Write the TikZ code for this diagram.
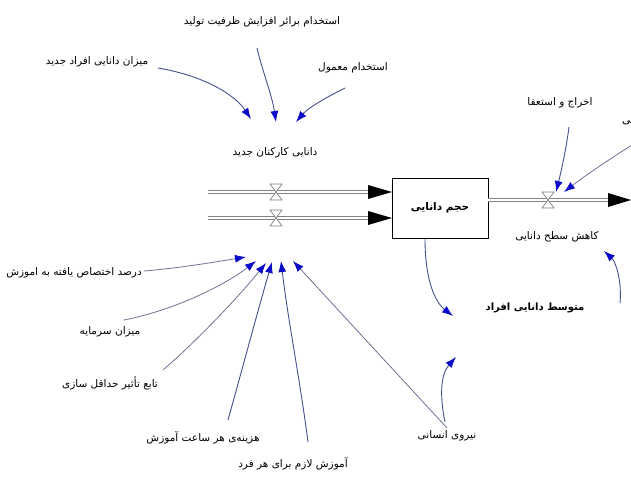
\documentclass[tikz,border=0pt]{standalone}
\usepackage{fontspec}
\newfontfamily\fa[Script=Arabic]{DejaVu Sans}
\TeXXeTstate=1
\usetikzlibrary{arrows.meta}
\definecolor{linkc}{RGB}{70,80,140}
\definecolor{linkg}{RGB}{110,115,150}
\definecolor{headc}{RGB}{10,10,200}
\definecolor{pipec}{RGB}{130,130,130}
\newcommand{\fatext}[1]{\beginR #1\endR}
\begin{document}
\begin{tikzpicture}[x=1pt,y=-1pt,
  lbl/.style={font=\fa\fontsize{10.5}{12}\selectfont, inner sep=1pt},
  blbl/.style={font=\fa\bfseries\fontsize{10}{12}\selectfont, inner sep=1pt},
  link/.style={draw=linkc, line width=0.9pt, -{Latex[length=11pt,width=8pt,color=headc]}},
  linkgray/.style={draw=linkg, line width=0.8pt, -{Latex[length=11pt,width=8pt,color=headc]}},
  pipe/.style={draw=pipec, double=white, double distance=2.4pt, line width=0.8pt},
  valvesym/.pic={\draw[pipec, fill=white, line width=0.7pt] (-6,-8)--(6,-8)--(-6,8)--(6,8)--cycle;},
]
\useasboundingbox[fill=white] (0,0) rectangle (631,492);

% labels
\node[lbl] (ebar) at (262,22) {\fatext{استخدام برائر افزایش ظرفیت تولید}};
\node[lbl] (mdaj) at (97,62) {\fatext{میزان دانایی افراد جدید}};
\node[lbl] (emam) at (353,68) {\fatext{استخدام معمول}};
\node[lbl] (dkj) at (275,153) {\fatext{دانایی کارکنان جدید}};
\node[lbl] (ekh) at (560,103) {\fatext{اخراج و استعفا}};
\node[lbl, anchor=west] (baz) at (621,120) {\fatext{بازنشستگی}};
\node[lbl] (kah) at (557,237) {\fatext{کاهش سطح دانایی}};
\node[blbl] (mot) at (535,308) {\fatext{متوسط دانایی افراد}};
\node[lbl] (dar) at (74,273) {\fatext{درصد اختصاص یافته به اموزش}};
\node[lbl] (sar) at (110,332) {\fatext{میزان سرمایه}};
\node[lbl] (tab) at (110,383) {\fatext{تابع تأثیر حداقل سازی}};
\node[lbl] (haz) at (203,438) {\fatext{هزینه‌ی هر ساعت آموزش}};
\node[lbl] (amu) at (293,464) {\fatext{آموزش لازم برای هر فرد}};
\node[lbl] (nir) at (447,436) {\fatext{نیروی انسانی}};

% stock
\node[draw, line width=0.9pt, minimum width=96pt, minimum height=60pt, inner sep=0pt,
      font=\fa\bfseries\fontsize{10.5}{12}\selectfont] (box) at (440,208) {\fatext{حجم دانایی}};

% pipes
\coordinate (p1s) at (208,192); \coordinate (p1e) at (369,192);
\coordinate (p2s) at (208,218); \coordinate (p2e) at (369,218);
\coordinate (p3s) at (488,200); \coordinate (p3e) at (609,200);
\draw[pipe] (p1s) -- (p1e);
\draw[pipe] (p2s) -- (p2e);
\draw[pipe] (p3s) -- (p3e);
\fill[black] (368,185) -- (392,192) -- (368,199) -- cycle;
\fill[black] (368,211) -- (392,218) -- (368,225) -- cycle;
\fill[black] (608,193) -- (631,200) -- (608,207) -- cycle;
\pic at (276,192) {valvesym};
\pic at (276,218) {valvesym};
\pic at (548,200) {valvesym};

% top links
\coordinate (a1s) at (158,68);  \coordinate (a1e) at (251,119);
\coordinate (a2s) at (257,48);  \coordinate (a2e) at (276,122);
\coordinate (a3s) at (345,88);  \coordinate (a3e) at (296,122);
\draw[link] (a1s) .. controls (205,76) and (235,95) .. (a1e);
\draw[link] (a2s) .. controls (262,70) and (272,95) .. (a2e);
\draw[link] (a3s) .. controls (325,98) and (308,108) .. (a3e);

% right links
\coordinate (d1s) at (569,127); \coordinate (d1e) at (556,192);
\coordinate (d2s) at (632,145); \coordinate (d2e) at (564,192);
\draw[link] (d1s) .. controls (566,150) and (561,172) .. (d1e);
\draw[linkgray] (d2s) .. controls (605,162) and (582,178) .. (d2e);

\coordinate (f1s) at (425,239); \coordinate (f1e) at (453,316);
\draw[link] (f1s) .. controls (425,280) and (435,302) .. (f1e);
\coordinate (g1s) at (620,303); \coordinate (g1e) at (604,251);
\draw[link] (g1s) .. controls (622,282) and (616,262) .. (g1e);
\coordinate (h1s) at (445,422); \coordinate (h1e) at (456,357);
\draw[link] (h1s) .. controls (440,398) and (440,375) .. (h1e);

% lower links into cluster
\coordinate (l1s) at (144,271); \coordinate (l1e) at (246,257);
\coordinate (l2s) at (124,320); \coordinate (l2e) at (256,261);
\coordinate (l3s) at (163,370); \coordinate (l3e) at (266,263);
\coordinate (l4s) at (228,420); \coordinate (l4e) at (272,262);
\coordinate (l5s) at (308,442); \coordinate (l5e) at (281,261);
\coordinate (l6s) at (447,428); \coordinate (l6e) at (293,261);
\draw[linkgray] (l1s) .. controls (180,268) and (215,262) .. (l1e);
\draw[linkgray] (l2s) .. controls (175,310) and (225,285) .. (l2e);
\draw[linkgray] (l3s) .. controls (200,338) and (240,295) .. (l3e);
\draw[link] (l4s) .. controls (242,370) and (258,310) .. (l4e);
\draw[link] (l5s) .. controls (300,380) and (288,320) .. (l5e);
\draw[linkgray] (l6s) -- (l6e);
\end{tikzpicture}
\end{document}
